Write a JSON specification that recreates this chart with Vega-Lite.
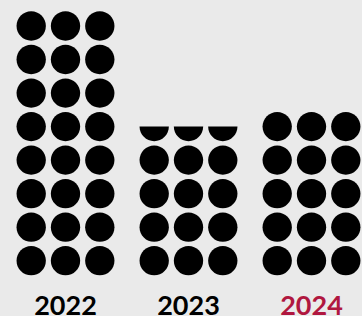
{
  "$schema": "https://vega.github.io/schema/vega-lite/v6.json",
  "width": 362,
  "height": 280,
  "autosize": {"type": "none"},
  "padding": {"top": 0, "left": 0, "right": 0, "bottom": 36},
  "background": "#eaeaea",
  "config": {"view": {"stroke": null}},
  "data": {"values": [
    {"year": "2022", "col": 1, "row": 1, "part": "full"},
    {"year": "2022", "col": 2, "row": 1, "part": "full"},
    {"year": "2022", "col": 3, "row": 1, "part": "full"},
    {"year": "2022", "col": 1, "row": 2, "part": "full"},
    {"year": "2022", "col": 2, "row": 2, "part": "full"},
    {"year": "2022", "col": 3, "row": 2, "part": "full"},
    {"year": "2022", "col": 1, "row": 3, "part": "full"},
    {"year": "2022", "col": 2, "row": 3, "part": "full"},
    {"year": "2022", "col": 3, "row": 3, "part": "full"},
    {"year": "2022", "col": 1, "row": 4, "part": "full"},
    {"year": "2022", "col": 2, "row": 4, "part": "full"},
    {"year": "2022", "col": 3, "row": 4, "part": "full"},
    {"year": "2022", "col": 1, "row": 5, "part": "full"},
    {"year": "2022", "col": 2, "row": 5, "part": "full"},
    {"year": "2022", "col": 3, "row": 5, "part": "full"},
    {"year": "2022", "col": 1, "row": 6, "part": "full"},
    {"year": "2022", "col": 2, "row": 6, "part": "full"},
    {"year": "2022", "col": 3, "row": 6, "part": "full"},
    {"year": "2022", "col": 1, "row": 7, "part": "full"},
    {"year": "2022", "col": 2, "row": 7, "part": "full"},
    {"year": "2022", "col": 3, "row": 7, "part": "full"},
    {"year": "2022", "col": 1, "row": 8, "part": "full"},
    {"year": "2022", "col": 2, "row": 8, "part": "full"},
    {"year": "2022", "col": 3, "row": 8, "part": "full"},
    {"year": "2023", "col": 1, "row": 1, "part": "full"},
    {"year": "2023", "col": 2, "row": 1, "part": "full"},
    {"year": "2023", "col": 3, "row": 1, "part": "full"},
    {"year": "2023", "col": 1, "row": 2, "part": "full"},
    {"year": "2023", "col": 2, "row": 2, "part": "full"},
    {"year": "2023", "col": 3, "row": 2, "part": "full"},
    {"year": "2023", "col": 1, "row": 3, "part": "full"},
    {"year": "2023", "col": 2, "row": 3, "part": "full"},
    {"year": "2023", "col": 3, "row": 3, "part": "full"},
    {"year": "2023", "col": 1, "row": 4, "part": "full"},
    {"year": "2023", "col": 2, "row": 4, "part": "full"},
    {"year": "2023", "col": 3, "row": 4, "part": "full"},
    {"year": "2023", "col": 1, "row": 5, "part": "half"},
    {"year": "2023", "col": 2, "row": 5, "part": "half"},
    {"year": "2023", "col": 3, "row": 5, "part": "half"},
    {"year": "2024", "col": 1, "row": 1, "part": "full"},
    {"year": "2024", "col": 2, "row": 1, "part": "full"},
    {"year": "2024", "col": 3, "row": 1, "part": "full"},
    {"year": "2024", "col": 1, "row": 2, "part": "full"},
    {"year": "2024", "col": 2, "row": 2, "part": "full"},
    {"year": "2024", "col": 3, "row": 2, "part": "full"},
    {"year": "2024", "col": 1, "row": 3, "part": "full"},
    {"year": "2024", "col": 2, "row": 3, "part": "full"},
    {"year": "2024", "col": 3, "row": 3, "part": "full"},
    {"year": "2024", "col": 1, "row": 4, "part": "full"},
    {"year": "2024", "col": 2, "row": 4, "part": "full"},
    {"year": "2024", "col": 3, "row": 4, "part": "full"},
    {"year": "2024", "col": 1, "row": 5, "part": "full"},
    {"year": "2024", "col": 2, "row": 5, "part": "full"},
    {"year": "2024", "col": 3, "row": 5, "part": "full"}
  ]},
  "mark": {"type": "point", "filled": true, "opacity": 1, "color": "#000000", "size": 860, "strokeWidth": 0},
  "encoding": {
    "x": {
      "field": "year", "type": "nominal",
      "scale": {"range": [4, 373], "paddingInner": 0, "paddingOuter": 0},
      "axis": {
        "title": null, "ticks": false, "domain": false, "grid": false,
        "labelAngle": 0, "labelBaseline": "alphabetic", "labelPadding": 34,
        "labelFont": "Lato", "labelFontSize": 27, "labelFontWeight": "bold",
        "labelColor": {"condition": {"test": "datum.value == '2024'", "value": "#b0173f"}, "value": "#000000"}
      }
    },
    "xOffset": {
      "field": "col", "type": "ordinal",
      "scale": {"type": "point", "range": [27.2, 95.8], "padding": 0}
    },
    "y": {
      "field": "row", "type": "quantitative",
      "scale": {"domain": [0.424, 8.775], "nice": false, "zero": false},
      "axis": null
    },
    "shape": {
      "field": "part", "type": "nominal",
      "scale": {"domain": ["full", "half"], "range": ["M-1,0A1,1,0,1,1,1,0A1,1,0,1,1,-1,0Z", "M-1,0A1,1,0,0,0,1,0Z"]},
      "legend": null
    }
  }
}
